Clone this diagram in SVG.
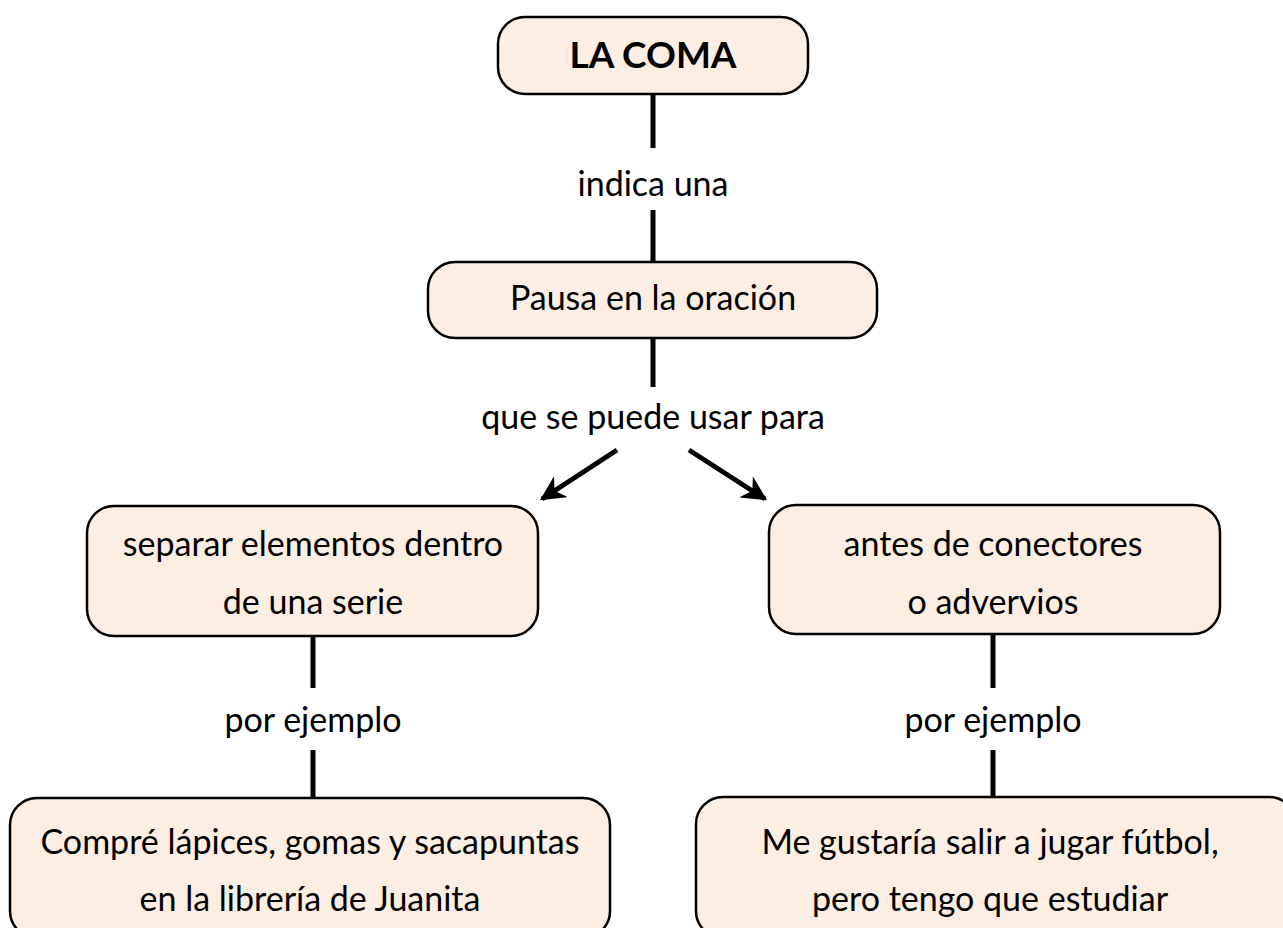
<svg xmlns="http://www.w3.org/2000/svg" width="1283" height="928" viewBox="0 0 1283 928">
<style>
.box{fill:#FDEEE3;stroke:#000;stroke-width:2.5}
.t{font-family:Lato,"Open Sans",sans-serif;font-size:34px;fill:#000;text-anchor:middle}
.b{font-weight:bold;font-size:37px}
.ln{stroke:#000;stroke-width:5;fill:none}
</style>
<defs>
<marker id="ah" viewBox="0 0 10 10" refX="9" refY="5" markerWidth="5" markerHeight="5" orient="auto" markerUnits="strokeWidth">
<path d="M0,0 L10,5 L0,10 L3,5 z" fill="#000"/>
</marker>
</defs>
<rect width="1283" height="928" fill="#fff"/>
<g id="connectors">
<line class="ln" x1="653" y1="94" x2="653" y2="148"/>
<line class="ln" x1="653" y1="210" x2="653" y2="262"/>
<line class="ln" x1="653" y1="338" x2="653" y2="387"/>
<line class="ln" x1="617" y1="450" x2="542" y2="499" marker-end="url(#ah)"/>
<line class="ln" x1="689" y1="450" x2="765" y2="499" marker-end="url(#ah)"/>
<line class="ln" x1="313" y1="636" x2="313" y2="688"/>
<line class="ln" x1="313" y1="750" x2="313" y2="799"/>
<line class="ln" x1="993" y1="634" x2="993" y2="688"/>
<line class="ln" x1="993" y1="750" x2="993" y2="797"/>
<text class="t" x="653" y="196">indica una</text>
<text class="t" x="653" y="429">que se puede usar para</text>
<text class="t" x="313" y="732">por ejemplo</text>
<text class="t" x="993" y="732">por ejemplo</text>
</g>
<g id="n1">
<rect class="box" x="498" y="17" width="310" height="77" rx="27"/>
<text class="t b" x="653" y="68">LA COMA</text>
</g>
<g id="n2">
<rect class="box" x="428" y="262" width="449" height="76" rx="27"/>
<text class="t" x="653" y="310">Pausa en la oración</text>
</g>
<g id="n3">
<rect class="box" x="87" y="506" width="451" height="130" rx="27"/>
<text class="t" x="313" y="556">separar elementos dentro</text>
<text class="t" x="313" y="614">de una serie</text>
</g>
<g id="n4">
<rect class="box" x="769" y="505" width="451" height="129" rx="27"/>
<text class="t" x="993" y="556">antes de conectores</text>
<text class="t" x="993" y="614">o advervios</text>
</g>
<g id="n5">
<rect class="box" x="10" y="798" width="600" height="140" rx="27"/>
<text class="t" x="310" y="854">Compré lápices, gomas y sacapuntas</text>
<text class="t" x="310" y="911">en la librería de Juanita</text>
</g>
<g id="n6">
<rect class="box" x="696" y="797" width="600" height="141" rx="27"/>
<text class="t" x="990" y="854">Me gustaría salir a jugar fútbol,</text>
<text class="t" x="990" y="911">pero tengo que estudiar</text>
</g>
</svg>
